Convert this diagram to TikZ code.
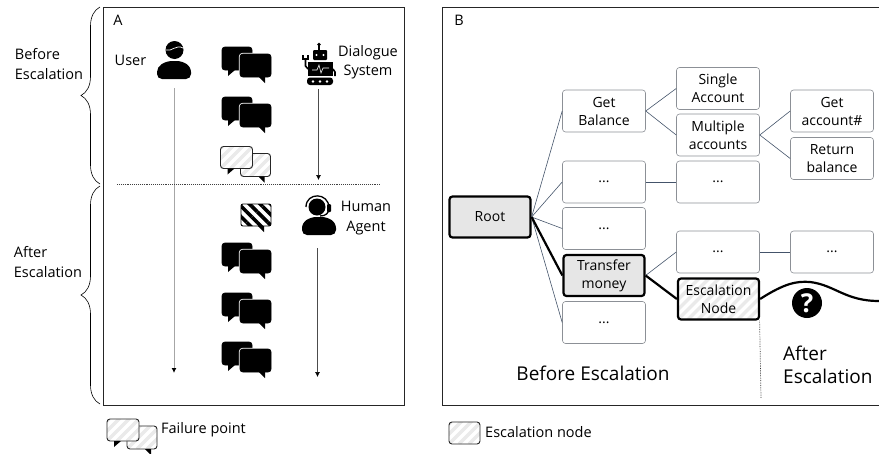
\documentclass[tikz,border=0pt]{standalone}
\usepackage{fontspec}
\setmainfont{Open Sans}
\usetikzlibrary{arrows.meta}
\usetikzlibrary{patterns.meta}
\usetikzlibrary{decorations.pathreplacing}
\definecolor{edgeblue}{HTML}{44546A}
\definecolor{boxgray}{HTML}{8C9096}
\definecolor{rootgray}{HTML}{E6E6E6}
\definecolor{hatchgray}{HTML}{EAEAEA}

\begin{document}
\begin{tikzpicture}[
  x = 1pt, y = -1pt,
  > = {Latex[length=5pt,width=5pt,black]},
  lbl/.style = {inner sep=0pt,align=left,font=\fontsize{14.5}{19.5}\selectfont},
  biglbl/.style = {inner sep=0pt,align=left,font=\fontsize{19}{23}\selectfont},
  panel/.style = {draw=black!85,line width=0.9pt},
  brace/.style = {draw,line width=0.6pt,decorate,decoration={brace,amplitude=19pt}},
  flow/.style = {->,black!70,line width=0.6pt},
  sep/.style = {densely dotted,black!75,line width=0.9pt},
  tree/.style = {draw=boxgray,line width=0.6pt,rounded corners=3pt,fill=white,minimum width=83pt,minimum height=42pt,inner sep=0pt,align=center,font=\fontsize{14}{18}\selectfont},
  path node/.style = {tree,draw=black,line width=2.2pt,minimum width=81pt,minimum height=41pt},
  chosen/.style = {path node,fill=rootgray},
  light hatch/.style = {fill=white,path picture={
    \foreach \k in {-70,-60,...,100}
      \draw[hatchgray,line width=3.2pt] (path picture bounding box.south west) ++(\k,0) -- ++(80,-80);
  }},
  thin edge/.style = {draw=edgeblue,line width=0.6pt},
  bold edge/.style = {draw=black,line width=2.2pt},
  solid chat/.style = {draw=black,fill=black,line width=0.8pt},
  pale chat/.style = {draw=black!85,line width=0.9pt,light hatch},
  stripe chat/.style = {draw=black,line width=0.9pt,preaction={fill=white},pattern={Lines[angle=-45,distance=7.5pt,line width=3.6pt]},pattern color=black},
  pics/chatpair/.style = {code={
    \path[pic actions,rounded corners=3pt] (0,0) rectangle (30,23);
    \fill[black] (6,23) -- (6,29) -- (13,23) -- cycle;
    \draw[white,line width=2.4pt,rounded corners=3pt] (18,7) rectangle (49,30);
    \path[pic actions,rounded corners=3pt] (18,7) rectangle (49,30);
    \fill[black] (37,30) -- (43,36) -- (43,30) -- cycle;
  }},
  pics/chatpale/.style = {code={
    \path[pic actions,rounded corners=3pt] (20,7) rectangle (50,30);
    \fill[black] (38,30) -- (44,36) -- (44,30) -- cycle;
    \path[pic actions,rounded corners=3pt] (0,0) rectangle (32,22);
    \fill[black] (7,22) -- (7,28) -- (14,22) -- cycle;
  }},
  pics/chatone/.style = {code={
    \path[pic actions,rounded corners=2pt] (0,0) rectangle (30,22);
    \fill[black] (17,22) -- (23,28) -- (23,22) -- cycle;
  }}
  ]
  \useasboundingbox (0,0) rectangle (879,453);

  % panels
  \draw[panel] (103,7) rectangle (404,405);
  \draw[panel] (879,7) -- (442,7) -- (442,405) -- (879,405);
  \node[lbl] (@a) at (118,20) {A};
  \node[lbl] (@b) at (459,20) {B};

  % braces on the left
  \draw[brace] (100,184) -- (100,7);
  \draw[brace] (100,404) -- (100,186);
  \node[lbl] (@before) at (49,64) {Before\\Escalation};
  \node[lbl] (@after) at (48,262) {After\\Escalation};

  % user
  \fill (174.5,50) circle (9);
  \draw[white,line width=0.7pt] (166,50) .. controls (172,52) and (176,44) .. (183,48);
  \fill[rounded corners=5pt] (157,79) -- (157,67) -- (167,61) -- (182,61) -- (191,67) -- (191,79) -- cycle;
  \node[lbl] (@user) at (130.5,60) {User};

  % robot
  \fill (319,44.5) circle (1.8);
  \draw[line width=1.2pt] (319,45) -- (319,50);
  \fill[rounded corners=1pt] (313,50) rectangle (327,60);
  \fill[white] (316.5,55) circle (1.2) (323.5,55) circle (1.2);
  \fill (308,62) rectangle (333,76);
  \draw[white,line width=0.6pt] (312,70) -- (317,70) -- (319,65) -- (321,73) -- (323,68) -- (329,68);
  \draw[line width=1.6pt] (308,69) -- (305.5,66) -- (305.5,60);
  \draw[line width=1.4pt] (303,55) -- (303,59) -- (308,59) -- (308,55);
  \draw[line width=1.6pt] (333,69) -- (335,72) -- (335,76);
  \fill[rounded corners=3pt] (307,77.5) rectangle (333,85);
  \fill[white] (313,81.5) circle (1.3) (320,81.5) circle (1.3) (327,81.5) circle (1.3);
  \node[lbl,align=center] (@dialogue) at (368,62) {Dialogue\\System};

  % human agent
  \fill (317,207) circle (8.5);
  \draw[line width=1.3pt] (306,207) .. controls (306,192) and (329,192) .. (329,208) .. controls (329,213) and (326,216) .. (320,216);
  \fill[rounded corners=1pt] (327,204) rectangle (331,212);
  \fill[rounded corners=5pt] (302,235) -- (302,223) -- (311,217) -- (327,217) -- (336,223) -- (336,235) -- cycle;
  \node[lbl,align=center] (@human) at (366,218) {Human\\Agent};

  % lifelines
  \coordinate (@usertop) at (174,88);
  \coordinate (@userend) at (174,373);
  \coordinate (@systop) at (318.5,89);
  \coordinate (@sysend) at (318.5,180);
  \coordinate (@agenttop) at (317.5,248);
  \coordinate (@agentend) at (317.5,377);
  \draw[->,black!35,line width=1pt] (@usertop) to (@userend);
  \draw[flow] (@systop) to (@sysend);
  \draw[flow] (@agenttop) to (@agentend);
  \coordinate (@sepleft) at (117,184.5);
  \coordinate (@sepright) at (381,184.5);
  \draw[sep] (@sepleft) -- (@sepright);

  % chat bubbles
  \pic[solid chat] at (222,47) {chatpair};
  \pic[solid chat] at (222,97) {chatpair};
  \pic[pale chat] at (220.5,146.5) {chatpale};
  \pic[stripe chat] at (241,204) {chatone};
  \pic[solid chat] at (222,243) {chatpair};
  \pic[solid chat] at (222,293) {chatpair};
  \pic[solid chat] at (222,342) {chatpair};

  % tree
  \node[chosen] (@root) at (490,217) {Root};
  \node[tree] (@getbal) at (604,111) {Get\\Balance};
  \node[tree] (@dots1) at (604,182) {...};
  \node[tree] (@dots2) at (604,228.5) {...};
  \node[chosen] (@transfer) at (604,275.5) {Transfer\\money};
  \node[tree] (@dots3) at (604,322.5) {...};
  \node[tree] (@single) at (718,88.5) {Single\\Account};
  \node[tree] (@multi) at (718,135) {Multiple\\accounts};
  \node[tree] (@dots4) at (718,182) {...};
  \node[tree] (@dots5) at (718,252) {...};
  \node[path node,light hatch] (@esc) at (718.5,299) {Escalation\\Node};
  \node[tree] (@getacc) at (832,111) {Get\\account\#};
  \node[tree] (@return) at (832,158.5) {Return\\balance};
  \node[tree] (@dots6) at (832,252) {...};

  \draw[thin edge] (@root.east) to (@getbal.west);
  \draw[thin edge] (@root.east) to (@dots1.west);
  \draw[thin edge] (@root.east) to (@dots2.west);
  \draw[thin edge] (@root.east) to (@dots3.west);
  \draw[thin edge] (@getbal.east) to (@single.west);
  \draw[thin edge] (@getbal.east) to (@multi.west);
  \draw[thin edge] (@multi.east) to (@getacc.west);
  \draw[thin edge] (@multi.east) to (@return.west);
  \draw[thin edge] (@dots1.east) to (@dots4.west);
  \draw[thin edge] (@transfer.east) to (@dots5.west);
  \draw[thin edge] (@dots5.east) to (@dots6.west);
  \draw[bold edge] (@root.east) to (@transfer.west);
  \draw[bold edge] (@transfer.east) to (@esc.west);

  % past the escalation node
  \coordinate (@waveend) at (879,301);
  \draw[bold edge] (@esc.east) .. controls (785,283) and (797,281) .. (810,282) .. controls (835,285) and (845,301) .. (@waveend);
  \node[circle,fill=black,text=white,inner sep=0pt,minimum size=30pt,font=\fontsize{26}{26}\selectfont\bfseries] (@question) at (807,303) {?};
  \coordinate (@cutend) at (761,398);
  \draw[densely dotted,black!80,line width=0.7pt] (@esc.south east) ++(-0.5,0) -- (@cutend);
  \node[biglbl] (@beforeb) at (593,373) {Before Escalation};
  \node[biglbl,anchor=west] (@afterb) at (783,364.5) {After\\Escalation};

  % legend
  \pic[pale chat] at (107,419) {chatpale};
  \node[lbl,anchor=west] (@failure) at (161,430) {Failure point};
  \draw[pale chat,rounded corners=3pt] (449,422) rectangle (480,444);
  \node[lbl,anchor=west] (@escleg) at (485,432) {Escalation node};
\end{tikzpicture}
\end{document}
